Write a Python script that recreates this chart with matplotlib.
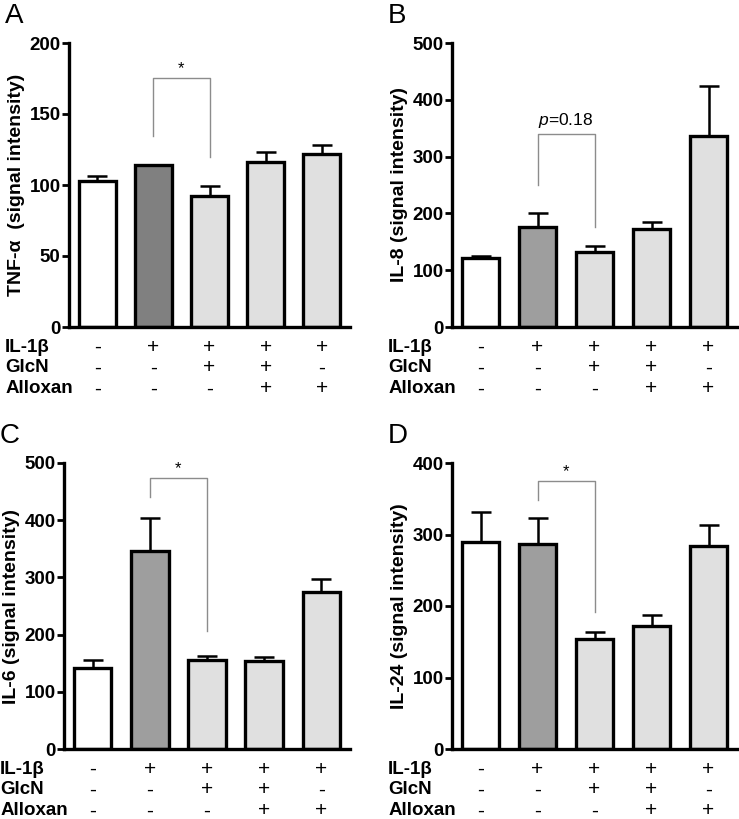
import numpy as np
import matplotlib
matplotlib.use("Agg")
import matplotlib.pyplot as plt

plt.rcParams['font.family'] = ['Liberation Sans', 'DejaVu Sans']
plt.rcParams['mathtext.fontset'] = 'custom'
plt.rcParams['mathtext.it'] = 'Liberation Sans:italic'
plt.rcParams['mathtext.rm'] = 'Liberation Sans'

# treatment rows under each panel
il1b = ['-', '+', '+', '+', '+']
glcn = ['-', '-', '+', '+', '-']
alloxan = ['-', '-', '-', '+', '+']
row_names = ['IL-1β', 'GlcN', 'Alloxan']

# panel data (mean, upper error)
tnf_mean = [103, 114, 92.3, 116, 121.6]
tnf_err = [3, 0, 7, 7.5, 6.5]
il8_mean = [120.7, 175.4, 132, 172.4, 336.5]
il8_err = [4.5, 24.6, 11, 11.6, 88.5]
il6_mean = [141.2, 346.5, 155.2, 154, 274.8]
il6_err = [14.6, 57.2, 8.1, 6.5, 22.2]
il24_mean = [289.4, 286.6, 154, 171.8, 284.2]
il24_err = [42, 36.8, 10.2, 15.4, 28.4]

# bracket: (left bottom, right bottom, top, label)
tnf_br = (134.5, 119.7, 175.6, '*')
il8_br = (250, 176, 340, r'$\it{p}$=0.18')
il6_br = (440, 206.5, 474, '*')
il24_br = (347.6, 192.2, 375.2, '*')

panels = [
    ('A', 'TNF-α  (signal intensity)', tnf_mean, tnf_err, tnf_br, 200, 50, '#808080'),
    ('B', 'IL-8 (signal intensity)', il8_mean, il8_err, il8_br, 500, 100, '#9e9e9e'),
    ('C', 'IL-6 (signal intensity)', il6_mean, il6_err, il6_br, 500, 100, '#9e9e9e'),
    ('D', 'IL-24 (signal intensity)', il24_mean, il24_err, il24_br, 400, 100, '#9e9e9e'),
]

W, H = 739, 819
fig = plt.figure(figsize=(W / 100, H / 100), dpi=100)

# axes boxes in pixels: left, right, top, bottom
boxes = [(69, 350, 43, 327), (452, 737, 43, 327),
         (64, 350, 463, 749), (452, 737, 463, 749)]

for (letter, ylab, mean, err, br, ymax, ystep, c2), (l, r, t, b) in zip(panels, boxes):
    ax = fig.add_axes([l / W, 1 - b / H, (r - l) / W, (b - t) / H])
    x = np.arange(5)
    cols = ['white', c2, '#e0e0e0', '#e0e0e0', '#e0e0e0']
    ax.errorbar(x, mean, yerr=[np.zeros(5), err], fmt='none', ecolor='black',
                elinewidth=1.8, capsize=7.5, capthick=1.8, zorder=1)
    ax.bar(x, mean, width=0.66, color=cols, edgecolor='black', linewidth=2.4, zorder=2)

    ax.set_xlim(-0.5, 4.5)
    ax.set_ylim(0, ymax)
    ax.set_yticks(np.arange(0, ymax + 1, ystep))
    ax.set_xticks([])
    for s in ['top', 'right']:
        ax.spines[s].set_visible(False)
    for s in ['left', 'bottom']:
        ax.spines[s].set_linewidth(2.4)
    ax.tick_params(axis='y', width=2, length=5, labelsize=13.5, pad=1)
    for lab in ax.get_yticklabels():
        lab.set_fontweight('bold')
    ax.set_ylabel(ylab, fontsize=14, fontweight='bold', labelpad=3)

    # significance bracket
    lb, rb, top, txt = br
    ax.plot([1, 1, 2, 2], [lb, top, top, rb], color='#8c8c8c', lw=1, zorder=3)
    if txt == '*':
        ax.text(1.5, top + ymax * 0.006, txt, ha='center', va='bottom', fontsize=12)
    else:
        ax.text(1.5, top + ymax * 0.015, txt, ha='center', va='bottom', fontsize=12.5)

    # panel letter
    ax.annotate(letter, xy=(0, 1), xycoords='axes fraction', xytext=(-46, 14.5),
                textcoords='offset points', fontsize=20, ha='left', va='baseline')

    # treatment table
    offs = [-14.5, -29.5, -44.5]
    for row, name, dy in zip([il1b, glcn, alloxan], row_names, offs):
        ax.annotate(name, xy=(0, 0), xycoords='axes fraction', xytext=(-46, dy),
                    textcoords='offset points', ha='left', va='center',
                    fontsize=13.5, fontweight='bold', annotation_clip=False)
        for i, sgn in enumerate(row):
            ax.annotate(sgn, xy=(i, 0), xycoords=('data', 'axes fraction'),
                        xytext=(0, dy), textcoords='offset points', ha='center',
                        va='center', fontsize=15, annotation_clip=False)

fig.savefig('out.png', dpi=100)
